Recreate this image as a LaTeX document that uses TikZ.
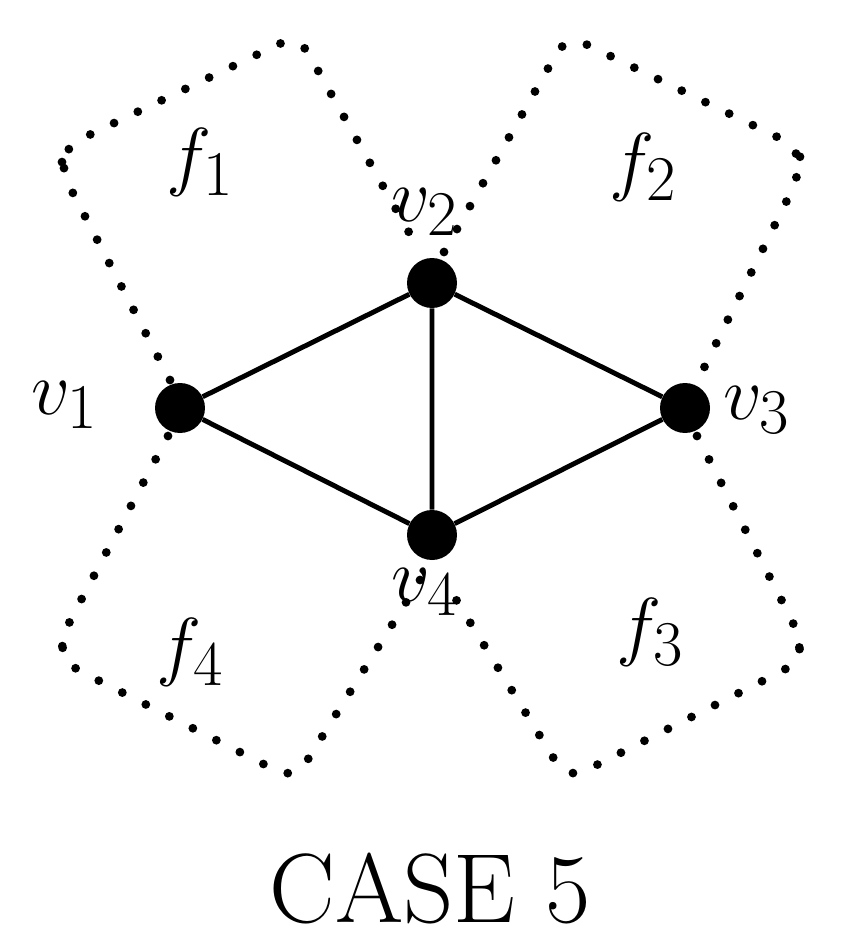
\documentclass[tikz,border=0pt]{standalone}
\begin{document}
\begin{tikzpicture}[x=0.02cm,y=-0.02cm,
  vert/.style={circle,fill=black,inner sep=0pt,minimum size=1cm},
  edge/.style={line width=2.8pt},
  dots/.style={line width=5pt,line cap=round,dash pattern=on 0pt off 15pt,rounded corners=0.4cm},
  lab/.style={font=\fontsize{56}{64}\selectfont},
  mlab/.style={font=\fontsize{24.88}{30}\selectfont,scale=1.75,transform shape}]
\useasboundingbox (0,0) rectangle (842,950);
\node[vert] (v1) at (180,408) {};
\node[vert] (v2) at (432,283) {};
\node[vert] (v3) at (685,408) {};
\node[vert] (v4) at (432,535) {};
\draw[edge] (v1)--(v2)--(v3)--(v4)--(v1) (v2)--(v4);
\draw[dots] (170,380)--(62,172)--(62,148)--(298,35)--(420,252);
\draw[dots] (444,252)--(567,35)--(800,148)--(800,174)--(697,382);
\draw[dots] (697,436)--(800,636)--(800,662)--(567,780)--(444,580);
\draw[dots] (420,580)--(295,780)--(62,662)--(62,636)--(168,436);
\node[mlab] (l1) at (65,405) {$v_1$};
\node[mlab] (l2) at (425,212) {$v_2$};
\node[mlab] (l3) at (757,410) {$v_3$};
\node[mlab] (l4) at (425,592) {$v_4$};
\node[mlab] (f1) at (200,162) {$f_1$};
\node[mlab] (f2) at (643,167) {$f_2$};
\node[mlab] (f3) at (650,632) {$f_3$};
\node[mlab] (f4) at (190,652) {$f_4$};
\node[lab] (c) at (430,888) {CASE 5};
\end{tikzpicture}
\end{document}
